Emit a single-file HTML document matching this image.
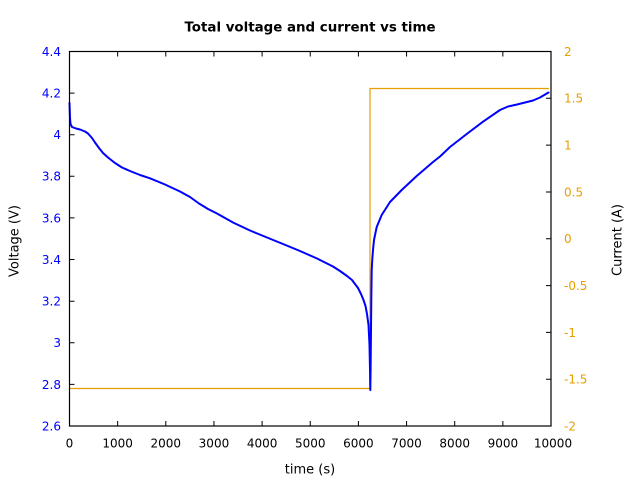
<!DOCTYPE html>
<html>
<head>
<meta charset="utf-8">
<style>
html,body{margin:0;padding:0;background:#fff;}
svg{display:block;}
text{font-family:"DejaVu Sans","Liberation Sans",sans-serif;font-size:12px;}
</style>
</head>
<body>
<svg width="640" height="480" viewBox="0 0 640 480" xmlns="http://www.w3.org/2000/svg">
<rect x="0" y="0" width="640" height="480" fill="#fff"/>
<!-- title -->
<text x="310" y="31.5" text-anchor="middle" font-weight="bold" fill="#000" style="font-size:13.4px">Total voltage and current vs time</text>

<!-- current series -->
<path d="M69.5,388.5 H370 V88.5 H549" fill="none" stroke="#e69f00" stroke-width="1.2"/>

<!-- voltage series -->
<polyline fill="none" stroke="#0000ff" stroke-width="2" stroke-linejoin="round" stroke-linecap="round"
points="69.5,103 70,118 70.5,124 72,127 76,128.5 80,129.5 85,131.5 88,133.5 92,138 95,142.5 99,148 103,153 108,157.5 115,163 122,167.5 130,171 140,175 150,178.3 165,184.5 180,191.5 190,197 199,203.5 208,209 217,213.5 233,222.5 250,230.5 267,237.5 283,244 300,251 317,258.5 333,266.5 340,271 347,276 352,280 355,284 358,288 361,294 363.5,300 365.5,306 367,314 368.5,325 369.5,345 370,370 370.3,390 370.6,370 371,330 371.3,300 371.7,270 372.3,259 373,250 374,240 376.7,227 381.7,215 390,202 401.7,190 416.7,176 433,162 440,156.5 450,147 466.7,134 483,121.7 500,110 508,106.5 517,104.5 533,100.5 540,97.5 548.5,92.5"/>

<!-- frame -->
<rect x="69.5" y="51.5" width="481.5" height="374.5" fill="none" stroke="#000" stroke-width="1.2"/>

<!-- ticks -->
<g stroke="#000" stroke-width="1">
<path d="M117.65,426v-5M165.8,426v-5M213.95,426v-5M262.1,426v-5M310.25,426v-5M358.4,426v-5M406.55,426v-5M454.7,426v-5M502.85,426v-5"/>
<path d="M117.65,51.5v5M165.8,51.5v5M213.95,51.5v5M262.1,51.5v5M310.25,51.5v5M358.4,51.5v5M406.55,51.5v5M454.7,51.5v5M502.85,51.5v5"/>
<path d="M69.5,93.1h5M69.5,134.7h5M69.5,176.3h5M69.5,217.9h5M69.5,259.5h5M69.5,301.2h5M69.5,342.8h5M69.5,384.4h5"/>
<path d="M551,98.3h-5M551,145.1h-5M551,192h-5M551,238.75h-5M551,285.6h-5M551,332.4h-5M551,379.2h-5"/>
</g>

<!-- x tick labels -->
<g fill="#000" text-anchor="middle">
<text x="69.5" y="447.5">0</text>
<text x="117.65" y="447.5">1000</text>
<text x="165.8" y="447.5">2000</text>
<text x="213.95" y="447.5">3000</text>
<text x="262.1" y="447.5">4000</text>
<text x="310.25" y="447.5">5000</text>
<text x="358.4" y="447.5">6000</text>
<text x="406.55" y="447.5">7000</text>
<text x="454.7" y="447.5">8000</text>
<text x="502.85" y="447.5">9000</text>
<text x="553" y="447.5">10000</text>
</g>

<!-- left tick labels -->
<g fill="#0000ff" text-anchor="end">
<text x="61" y="55.9">4.4</text>
<text x="61" y="97.5">4.2</text>
<text x="61" y="139.1">4</text>
<text x="61" y="180.7">3.8</text>
<text x="61" y="222.3">3.6</text>
<text x="61" y="263.9">3.4</text>
<text x="61" y="305.6">3.2</text>
<text x="61" y="347.2">3</text>
<text x="61" y="388.8">2.8</text>
<text x="61" y="430.4">2.6</text>
</g>

<!-- right tick labels -->
<g fill="#e69f00" text-anchor="start">
<text x="564" y="55.9">2</text>
<text x="564" y="102.7">1.5</text>
<text x="564" y="149.5">1</text>
<text x="564" y="196.4">0.5</text>
<text x="564" y="243.15">0</text>
<text x="564" y="290">-0.5</text>
<text x="564" y="336.8">-1</text>
<text x="564" y="383.6">-1.5</text>
<text x="564" y="430.4">-2</text>
</g>

<!-- axis labels -->
<text x="310" y="473.5" text-anchor="middle" fill="#000" style="font-size:13px">time (s)</text>
<text transform="translate(18.5,241) rotate(-90)" text-anchor="middle" fill="#000" style="font-size:13px">Voltage (V)</text>
<text transform="translate(621.5,240) rotate(-90)" text-anchor="middle" fill="#000" style="font-size:13px">Current (A)</text>
</svg>
</body>
</html>
